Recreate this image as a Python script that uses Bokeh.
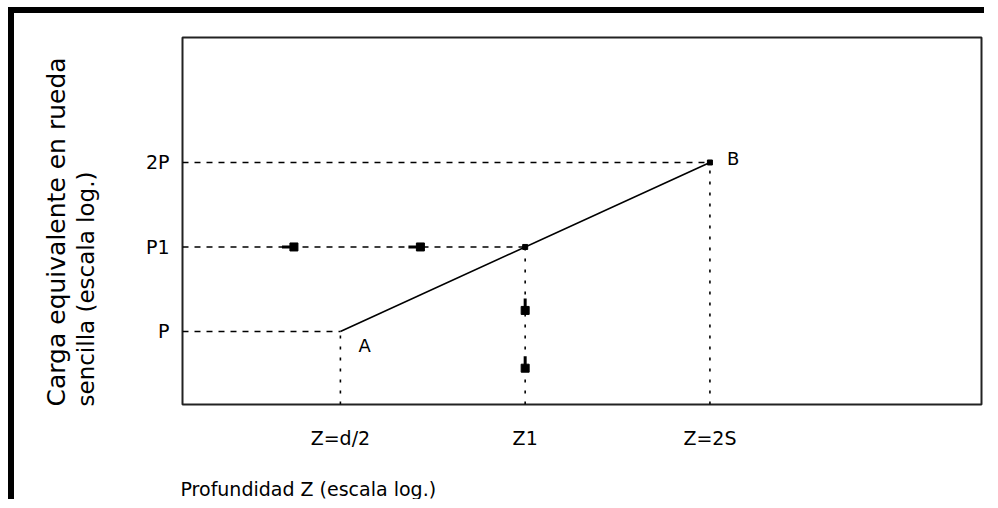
from bokeh.plotting import figure
from bokeh.models import Range1d, FixedTicker, LinearAxis, Title
from bokeh.core.properties import value
from bokeh.embed import file_html
from bokeh.resources import INLINE

# ---- data (log-log schematic) ----
y_names = ["P", "P1", "2P"]
y_vals = [1.0, 1.4142, 2.0]
x_names = ["Z=d/2", "Z1", "Z=2S"]
x_vals = [1.0, 2.0, 4.0]
curve_x = [1.0, 4.0]          # A -> B
curve_y = [1.0, 2.0]
point_names = ["A", "B"]
x_limits = [0.553, 11.08]
y_limits = [0.741, 3.34]
h_arrow_x = [0.84, 1.35]      # arrow marks on the P1 line
v_arrow_y = [1.09, 0.86]      # arrow marks on the Z1 line

x_title = "Profundidad Z (escala log.)"
y_title_1 = "Carga equivalente en rueda"
y_title_2 = "sencilla (escala log.)"

FONT = "DejaVu Sans"

p = figure(width=976, height=492, x_axis_type="log", y_axis_type="log",
           x_range=Range1d(*x_limits), y_range=Range1d(*y_limits),
           toolbar_location=None, output_backend="svg",
           min_border_left=168, min_border_right=9,
           min_border_top=24, min_border_bottom=101)
p.styles = {"border-top": "6px solid black", "border-left": "6px solid black",
            "margin-left": "8px", "margin-top": "7px"}
p.grid.visible = False
p.outline_line_color = "#222222"
p.outline_line_width = 2
p.background_fill_color = "white"
p.border_fill_color = "white"

xax = p.xaxis[0]
yax = p.yaxis[0]
for ax, vals, names, stand in ((xax, x_vals, x_names, 22), (yax, y_vals, y_names, 13)):
    ax.ticker = FixedTicker(ticks=vals, minor_ticks=[])
    ax.major_label_overrides = dict(zip(vals, names))
    ax.axis_line_color = None
    ax.major_tick_line_color = None
    ax.minor_tick_line_color = None
    ax.major_tick_in = 0
    ax.major_tick_out = 0
    ax.minor_tick_in = 0
    ax.minor_tick_out = 0
    ax.major_label_standoff = stand
    ax.major_label_text_font = FONT
    ax.major_label_text_font_size = "19px"
    ax.major_label_text_color = "black"
yax.major_label_orientation = "horizontal"


def spacer(size, at):
    # an unlabeled axis with one white tick: it only reserves `size` pixels in a side panel
    return LinearAxis(ticker=FixedTicker(ticks=[at], minor_ticks=[]),
                      major_label_overrides={at: ""}, axis_line_color=None,
                      major_tick_line_color="white", minor_tick_line_color=None,
                      major_tick_in=0, major_tick_out=size, minor_tick_in=0, minor_tick_out=0,
                      major_label_standoff=0, major_label_text_font_size="1px")


def make_title(text, size):
    return Title(text=text, align="left", vertical_align="bottom", standoff=0, offset=-2,
                 text_font=FONT, text_font_size=size, text_font_style="normal",
                 text_color="black")


# below: tick labels, gap, x title
p.add_layout(spacer(24, 10.0), "below")
p.add_layout(make_title(x_title, "19px"), "below")
# left: tick labels, gap, second line, first line
p.add_layout(spacer(44, 3.2), "left")
p.add_layout(make_title(y_title_2, "23px"), "left")
p.add_layout(make_title(y_title_1, "25px"), "left")

xmin, ymin = x_limits[0], y_limits[0]

# dashed horizontal guides (to B, Z1 point, A)
hx1 = [x_vals[2], x_vals[1], x_vals[0]]
hy = [y_vals[2], y_vals[1], y_vals[0]]
p.segment(x0=[xmin] * 3, y0=hy, x1=hx1, y1=hy, line_color="black", line_width=1.6, line_dash="6 6")

# dotted vertical guides
p.segment(x0=x_vals, y0=[ymin] * 3, x1=x_vals, y1=y_vals, line_color="black",
          line_width=1.6, line_dash="3 8")

# main line A-B
p.line(curve_x, curve_y, line_color="black", line_width=1.6)

# arrow marks (tail + square head)
tail_h = 2 ** (12 / 185)
p.segment(x0=[x / tail_h for x in h_arrow_x], y0=[y_vals[1]] * 2, x1=h_arrow_x, y1=[y_vals[1]] * 2,
          line_color="black", line_width=3)
p.scatter(h_arrow_x, [y_vals[1]] * 2, marker="square", size=8, color="black")
tail_v = 2 ** (12 / 169)
p.segment(x0=[x_vals[1]] * 2, y0=[y * tail_v for y in v_arrow_y], x1=[x_vals[1]] * 2, y1=v_arrow_y,
          line_color="black", line_width=3)
p.scatter([x_vals[1]] * 2, v_arrow_y, marker="square", size=8, color="black")

# small squares at the Z1 point and at B
p.scatter([x_vals[1], curve_x[1]], [y_vals[1], curve_y[1]], marker="square", size=5, color="black")

# point labels
p.text(x=curve_x, y=curve_y, text=point_names, x_offset=[18, 17], y_offset=[14, -4],
       text_font=value(FONT), text_font_size="18px", text_align="left", text_baseline="middle",
       text_color="black")

open("out.html", "w").write(file_html(p, INLINE))
